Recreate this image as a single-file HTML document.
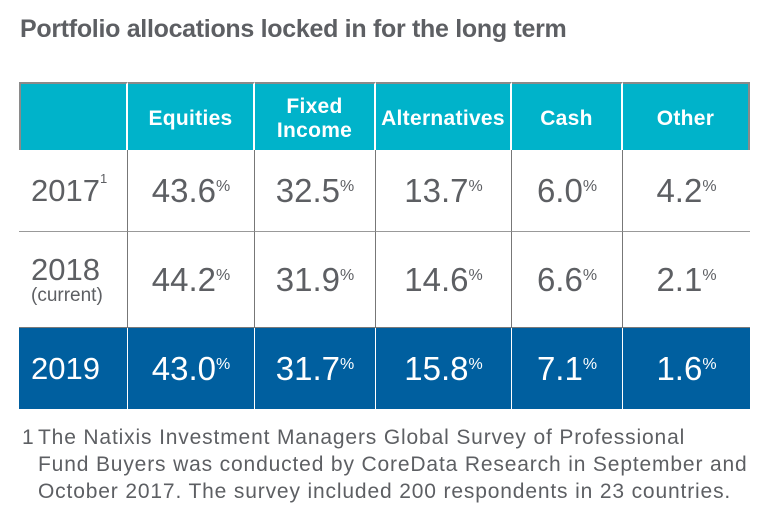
<!DOCTYPE html>
<html><head><meta charset="utf-8">
<style>
body{margin:0;width:769px;height:520px;background:#fff;font-family:"Liberation Sans",sans-serif;color:#5d5f63;position:relative;overflow:hidden}
.t{position:absolute;left:20px;top:15px;font-size:25px;font-weight:bold;color:#5d5f63;letter-spacing:-0.3px}
#tbl{position:absolute;left:19px;top:82px;width:731px;height:327px}
.c{position:absolute;box-sizing:border-box;display:flex;align-items:center;justify-content:center;text-align:center}
.h{background:#00b3ca;color:#fff;font-weight:bold;font-size:21px;line-height:24px;letter-spacing:0.3px;padding-top:3px}
.v{font-size:33px;letter-spacing:0}
.v sup{font-size:16px;vertical-align:top;position:relative;top:-4px;letter-spacing:0}
.d{background:#005f9f;color:#fff}
.yr{justify-content:center;padding-left:12px;font-size:31px;flex-direction:column;align-items:flex-start}
.fn{position:absolute;left:22px;top:424px;font-size:21px;letter-spacing:0.85px;line-height:27px;color:#5d5f63}
</style></head><body>
<div class="t">Portfolio allocations locked in for the long term</div>
<div id="tbl"></div>
<div class="fn"><span style="position:absolute;left:0">1</span><div style="padding-left:16px">The Natixis Investment Managers Global Survey of Professional<br>Fund Buyers was conducted by CoreData Research in September and<br>October 2017. The survey included 200 respondents in 23 countries.</div></div>
<script>
const categories=["Equities","Fixed<br>Income","Alternatives","Cash","Other"];
const years=["2017","2018","2019"];
const v2017=[43.6,32.5,13.7,6.0,4.2];
const v2018=[44.2,31.9,14.6,6.6,2.1];
const v2019=[43.0,31.7,15.8,7.1,1.6];
const rowsData=[v2017,v2018,v2019];
const colX=[0,109,236,357,493,604,731];
const rowY=[0,68,150,246,327];
const tbl=document.getElementById('tbl');
function cell(x0,x1,y0,y1,cls,html){
  const d=document.createElement('div');
  d.className='c '+cls;
  d.style.left=x0+'px';d.style.top=y0+'px';d.style.width=(x1-x0)+'px';d.style.height=(y1-y0)+'px';
  d.innerHTML=html;tbl.appendChild(d);return d;
}
for(let i=0;i<6;i++){
  const d=cell(colX[i],colX[i+1],0,68,'h',i?categories[i-1]:'');
  d.style.borderRight=i<5?'2px solid #fff':'2px solid #8a8a8a';
  d.style.borderTop='2px solid #8a8a8a';
  if(i==0)d.style.borderLeft='2px solid #8a8a8a';
  
  
}
for(let r=0;r<3;r++){
  const dark=r==2;
  for(let i=0;i<6;i++){
    let html;
    if(i==0){
      if(r==0)html='<span>'+years[r]+'<sup style="font-size:13px;vertical-align:top;position:relative;top:-2px">1</sup></span>';
      else if(r==1)html='<span style="line-height:31px">'+years[r]+'</span><span style="font-size:19px;line-height:21px">(current)</span>';
      else html='<span>'+years[r]+'</span>';
    } else html=rowsData[r][i-1].toFixed(1)+'<sup>%</sup>';
    const d=cell(colX[i],colX[i+1],rowY[r+1],rowY[r+2],(i==0?'yr ':'v ')+(dark?'d':''),html);
    if(i<5)d.style.borderRight=dark?'1.5px solid #fff':'1.5px solid #777';
    if(!dark&&r<1)d.style.borderBottom='1.5px solid #999';
    if(r==1)d.style.borderBottom='1.5px solid #7a7a7a';
    
    
  }
}
</script>
</body></html>
